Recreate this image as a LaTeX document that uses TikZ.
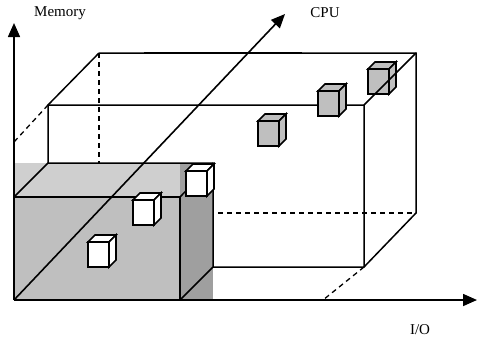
\documentclass[tikz,border=0pt]{standalone}
\usepackage{fontspec}
\setmainfont{Liberation Serif}
\usetikzlibrary{arrows.meta}

% small cube: #1,#2 = top left of the front face, #3 = fill
\newcommand{\cube}[3]{%
  \filldraw[cubeline,fill=#3] (#1,#2) rectangle ++(21,25);
  \filldraw[cubeline,fill=#3] (#1,#2) -- ++(7,-7) -- ++(21,0) -- ++(-7,7) -- cycle;
  \filldraw[cubeline,fill=#3] (#1+21,#2) -- ++(7,-7) -- ++(0,25) -- ++(-7,7) -- cycle;
}

\begin{document}
\begin{tikzpicture}
        [
        x=1pt,y=-1pt,
        edge/.style={line width=1.5pt},
        hidden/.style={line width=1.3pt,dash pattern=on 5pt off 4pt},
        axis/.style={line width=1.6pt,-{Triangle[length=14pt,width=12pt]}},
        cubeline/.style={line width=1.6pt,line join=miter},
        label/.style={font=\fontsize{15}{18}\selectfont}
        ]
    \useasboundingbox (0,0) rectangle (477,341);

    % axes end points
    \coordinate (o) at (14,300);
    \coordinate (mem) at (14,23);
    \coordinate (io) at (477,300);
    \coordinate (cpu) at (285,14);

    % large box, front face a b c d, back face e f g h
    \coordinate (a) at (48,105);
    \coordinate (b) at (364,105);
    \coordinate (c) at (364,267);
    \coordinate (d) at (48,267);
    \coordinate (e) at (99,53);
    \coordinate (f) at (416,53);
    \coordinate (g) at (416,213);
    \coordinate (h) at (99,213);

    \cube{368}{69}{gray!50}

    \draw[edge] (e) -- (f) -- (g) -- (c) -- (d) -- (a) -- (b) -- (c);
    \draw[edge] (e) -- (a);
    \draw[edge] (b) -- (f);
    \draw[line width=2pt] (144,53) -- (302,53);
    \draw[hidden] (e) -- (h) -- (g);
    \draw[hidden] (a) -- (14,142);
    \draw[hidden] (c) -- (323,300);

    % small gray box
    \fill[gray!38] (14,163) rectangle (180,197);
    \fill[gray!75] (180,163) rectangle (213,300);
    \fill[gray!50] (14,197) rectangle (180,300);
    \draw[edge] (14,197) -- (180,197) -- (180,300);
    \draw[edge] (14,197) -- (48,163) -- (213,163) -- (213,267);
    \draw[edge] (180,197) -- (213,163);
    \draw[edge] (180,300) -- (213,267);

    \cube{88}{242}{white}
    \cube{133}{200}{white}
    \cube{186}{171}{white}
    \cube{258}{121}{gray!50}
    \cube{318}{91}{gray!50}

    \draw[axis] (o) -- (mem);
    \draw[axis] (o) -- (io);
    \draw[axis] (o) -- (cpu);

    \node[label] (memlabel) at (60,13) {Memory};
    \node[label] (cpulabel) at (325,13) {CPU};
    \node[label] (iolabel) at (420,330) {I/O};
\end{tikzpicture}
\end{document}
